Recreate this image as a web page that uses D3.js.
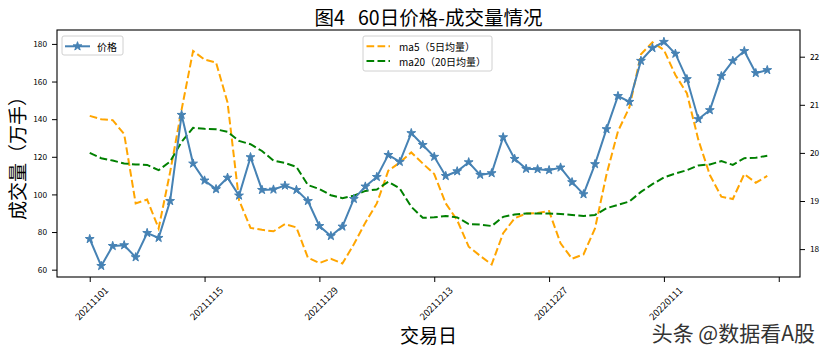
<!DOCTYPE html>
<html>
<head>
<meta charset="utf-8">
<script src="https://cdn.jsdelivr.net/npm/d3@7"></script>
<style>
  body { margin: 0; background: #fff; }
  svg { display: block; font-family: "Noto Sans CJK SC", sans-serif; }
</style>
</head>
<body>
<div id="app"></div>
<script>
// 交易日（60日）
const dates = [
  "20211101","20211102","20211103","20211104","20211105",
  "20211108","20211109","20211110","20211111","20211112",
  "20211115","20211116","20211117","20211118","20211119",
  "20211122","20211123","20211124","20211125","20211126",
  "20211129","20211130","20211201","20211202","20211203",
  "20211206","20211207","20211208","20211209","20211210",
  "20211213","20211214","20211215","20211216","20211217",
  "20211220","20211221","20211222","20211223","20211224",
  "20211227","20211228","20211229","20211230","20211231",
  "20220104","20220105","20220106","20220107","20220110",
  "20220111","20220112","20220113","20220114","20220117",
  "20220118","20220119","20220120","20220121","20220124"
];

// 左轴系列（图例"价格"）
const price = [
  76.3, 62.0, 72.6, 73.0, 66.6, 79.5, 76.9, 96.5, 142.3, 116.4,
  107.4, 102.8, 108.9, 99.4, 119.8, 102.4, 102.6, 104.7, 102.4, 96.5,
  83.2, 77.9, 82.9, 97.6, 104.2, 109.3, 121.0, 117.3, 132.6, 126.3,
  120.0, 109.8, 112.3, 117.1, 110.4, 111.3, 130.4, 118.9, 113.6, 113.4,
  112.9, 114.3, 106.5, 100.1, 116.1, 134.7, 152.3, 149.2, 171.0, 177.8,
  181.1, 174.8, 161.3, 140.0, 144.8, 162.9, 171.0, 176.2, 164.5, 166.1
];

// 右轴系列
const ma5 = [
  20.77, 20.70, 20.68, 20.39, 18.95, 19.03, 18.43, 19.60, 20.90, 22.12,
  21.94, 21.88, 21.05, 19.02, 18.44, 18.40, 18.37, 18.52, 18.45, 17.82,
  17.71, 17.80, 17.70, 18.10, 18.55, 18.95, 19.63, 19.80, 20.01, 19.78,
  19.56, 18.95, 18.60, 18.05, 17.86, 17.68, 18.33, 18.64, 18.74, 18.75,
  18.79, 18.12, 17.80, 17.89, 18.43, 19.55, 20.45, 20.95, 22.05, 22.30,
  22.14, 21.62, 21.24, 20.27, 19.54, 19.09, 19.04, 19.56, 19.38, 19.52
];
const ma20 = [
  20.00, 19.89, 19.84, 19.78, 19.76, 19.75, 19.64, 19.82, 20.23, 20.52,
  20.50, 20.49, 20.44, 20.25, 20.18, 20.04, 19.84, 19.79, 19.71, 19.33,
  19.25, 19.12, 19.06, 19.11, 19.21, 19.24, 19.40, 19.26, 18.88, 18.65,
  18.66, 18.69, 18.66, 18.52, 18.51, 18.48, 18.67, 18.72, 18.74, 18.74,
  18.74, 18.73, 18.71, 18.69, 18.71, 18.85, 18.92, 18.99, 19.19, 19.35,
  19.49, 19.57, 19.64, 19.74, 19.76, 19.83, 19.75, 19.89, 19.90, 19.94
];

const leftTicks = [60, 80, 100, 120, 140, 160, 180];
const rightTicks = [18, 19, 20, 21, 22];
const xTicks = [0, 10, 20, 30, 40, 50, 60];

const width = 826;
const height = 353;
const mLeft = 57, mRight = 800, mTop = 30, mBottom = 277;

const svg = d3.select('#app')
  .append('svg')
  .attr('width', width)
  .attr('height', height);

const x = d3.scaleLinear().domain([-2.85, 61.85]).range([mLeft, mRight]);
const yL = d3.scaleLinear().domain([56.1, 187.4]).range([mBottom, mTop]);
const yR = d3.scaleLinear().domain([17.42, 22.555]).range([mBottom, mTop]);

/* 坐标轴 */
const axL = svg.append('g')
  .attr('transform', `translate(${mLeft},0)`)
  .call(d3.axisLeft(yL).tickValues(leftTicks).tickSize(5).tickPadding(5)
    .tickFormat(d3.format('d')));
const axR = svg.append('g')
  .attr('transform', `translate(${mRight},0)`)
  .call(d3.axisRight(yR).tickValues(rightTicks).tickSize(5).tickPadding(5)
    .tickFormat(d3.format('d')));
const axX = svg.append('g')
  .attr('transform', `translate(0,${mBottom})`)
  .call(d3.axisBottom(x).tickValues(xTicks).tickSize(5)
    .tickFormat(i => dates[i] || ''));

[axL, axR, axX].forEach(g => {
  g.select('.domain').remove();
  g.selectAll('line').attr('stroke', '#000');
  g.selectAll('text')
    .attr('fill', '#000')
    .style('font-family', '"Noto Sans CJK SC", sans-serif')
    .style('font-size', '8.3px');
});

axX.selectAll('text')
  .style('font-size', '9.5px')
  .attr('x', 0).attr('y', 0).attr('dy', null)
  .attr('text-anchor', 'middle')
  .attr('dominant-baseline', 'central')
  .attr('transform', 'translate(1,26) rotate(-45)');

/* 折线 */
const idx = d3.range(dates.length);

const lineL = d3.line().x(i => x(i)).y(i => yL(price[i]));
const lineMa5 = d3.line().x(i => x(i)).y(i => yR(ma5[i]));
const lineMa20 = d3.line().x(i => x(i)).y(i => yR(ma20[i]));

const plot = svg.append('g');

plot.append('path')
  .attr('d', lineMa5(idx))
  .attr('fill', 'none')
  .attr('stroke', 'orange')
  .attr('stroke-width', 2)
  .attr('stroke-dasharray', '7.7,3.3');

plot.append('path')
  .attr('d', lineMa20(idx))
  .attr('fill', 'none')
  .attr('stroke', 'green')
  .attr('stroke-width', 2)
  .attr('stroke-dasharray', '7.7,3.3');

plot.append('path')
  .attr('d', lineL(idx))
  .attr('fill', 'none')
  .attr('stroke', 'steelblue')
  .attr('stroke-width', 2);

const star = d3.symbol().type(d3.symbolStar).size(24);

plot.selectAll('.star')
  .data(idx)
  .enter()
  .append('path')
  .attr('class', 'star')
  .attr('d', star)
  .attr('transform', i => `translate(${x(i)},${yL(price[i])})`)
  .attr('fill', 'steelblue')
  .attr('stroke', 'steelblue')
  .attr('stroke-width', 1);

/* 边框 */
svg.append('rect')
  .attr('x', mLeft).attr('y', mTop)
  .attr('width', mRight - mLeft).attr('height', mBottom - mTop)
  .attr('fill', 'none')
  .attr('stroke', '#000')
  .attr('stroke-width', 1.1);

/* 图例 */
const lg1 = svg.append('g');
lg1.append('rect')
  .attr('x', 62).attr('y', 36).attr('width', 61).attr('height', 19).attr('rx', 2)
  .attr('fill', 'rgba(255,255,255,0.8)').attr('stroke', '#d0d0d0');
lg1.append('line')
  .attr('x1', 65).attr('x2', 90).attr('y1', 46.3).attr('y2', 46.3)
  .attr('stroke', 'steelblue').attr('stroke-width', 2);
lg1.append('path')
  .attr('d', star).attr('transform', 'translate(77.5,46.3)')
  .attr('fill', 'steelblue').attr('stroke', 'steelblue');
lg1.append('text')
  .attr('x', 97).attr('y', 46.3).attr('dominant-baseline', 'central')
  .style('font-size', '10px').text('价格');

const lg2 = svg.append('g');
lg2.append('rect')
  .attr('x', 363).attr('y', 36).attr('width', 129).attr('height', 35).attr('rx', 2)
  .attr('fill', 'rgba(255,255,255,0.8)').attr('stroke', '#d0d0d0');
[['orange', 'ma5（5日均量）', 46.3], ['green', 'ma20（20日均量）', 61]].forEach(([c, t, yy]) => {
  lg2.append('line')
    .attr('x1', 366.5).attr('x2', 390).attr('y1', yy).attr('y2', yy)
    .attr('stroke', c).attr('stroke-width', 2).attr('stroke-dasharray', '7.7,3.3');
  lg2.append('text')
    .attr('x', 399).attr('y', yy).attr('dominant-baseline', 'central')
    .style('font-size', '10px').text(t);
});

/* 标题与轴标签 */
svg.append('text')
  .attr('x', (mLeft + mRight) / 2).attr('y', 25)
  .attr('text-anchor', 'middle')
  .style('font-size', '19.5px')
  .text('图4\u00a0\u00a0\u00a060日价格-成交量情况');

svg.append('text')
  .attr('transform', `translate(25,${(mTop + mBottom) / 2}) rotate(-90)`)
  .attr('text-anchor', 'middle')
  .style('font-size', '19px')
  .text('成交量（万手）');

svg.append('text')
  .attr('x', (mLeft + mRight) / 2).attr('y', 343)
  .attr('text-anchor', 'middle')
  .style('font-size', '19px')
  .text('交易日');

/* 水印 */
svg.append('text')
  .attr('x', 815).attr('y', 341)
  .attr('text-anchor', 'end')
  .style('font-size', '21px')
  .attr('fill', '#333')
  .attr('stroke', '#fff').attr('stroke-width', 0.6)
  .attr('paint-order', 'stroke')
  .text('头条 @数据看A股');
</script>
</body>
</html>
